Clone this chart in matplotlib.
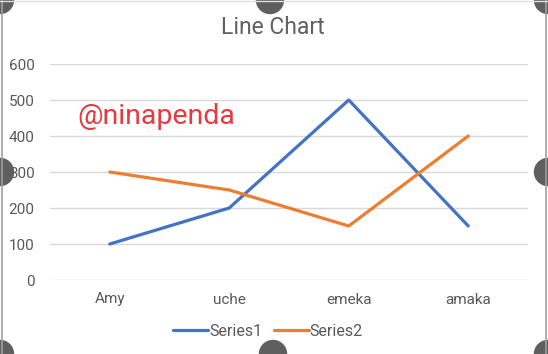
import matplotlib
matplotlib.use("Agg")
import matplotlib.pyplot as plt
from matplotlib.patches import Circle

plt.rcParams['font.family'] = ['Roboto', 'DejaVu Sans']

categories = ["Amy", "uche", "emeka", "amaka"]
series1 = [100, 200, 500, 150]
series2 = [300, 250, 150, 400]
yticks = [0, 100, 200, 300, 400, 500, 600]

W, H = 548, 354
fig = plt.figure(figsize=(W / 100, H / 100), dpi=100)
fig.patch.set_facecolor("white")

ax = fig.add_axes([50 / W, 1 - 280 / H, 478 / W, 216 / H])
x = list(range(len(categories)))
l1, = ax.plot(x, series1, color="#4472C4", lw=2.3, label="Series1", solid_capstyle="round")
l2, = ax.plot(x, series2, color="#ED7D31", lw=2.3, label="Series2", solid_capstyle="round")
ax.set_xlim(-0.5, 3.5)
ax.set_ylim(0, 600)
ax.set_yticks(yticks)
ax.set_xticks(x)
ax.set_xticklabels(categories)
ax.grid(axis="y", color="#d9d9d9", lw=1)
ax.set_axisbelow(True)
for s in ax.spines.values():
    s.set_visible(False)
ax.tick_params(length=0, colors="#595959", labelsize=11)
ax.tick_params(axis="y", pad=11)
ax.tick_params(axis="x", pad=9)

fig.text(273 / W, 1 - 28 / H, "Line Chart", ha="center", va="center",
         fontsize=16.5, color="#606060")
fig.text(77 / W, 1 - 117 / H, "@ninapenda", ha="left", va="center",
         fontsize=20.5, color="#E8393F")

fig.legend(handles=[l1, l2], loc="center", bbox_to_anchor=(268 / W, 1 - 331 / H),
           ncol=2, frameon=False, fontsize=11.5, labelcolor="#595959",
           handlelength=2.2, handletextpad=0.05, columnspacing=0.7)

ov = fig.add_axes([0, 0, 1, 1], zorder=10)
ov.set_xlim(0, W)
ov.set_ylim(H, 0)
ov.axis("off")
ov.patch.set_alpha(0)
ov.plot([1.5, 1.5], [0, H], color="#a0a0a0", lw=1.2)
ov.plot([546, 546], [0, H], color="#a0a0a0", lw=1.2)
ov.plot([0, W], [0.5, 0.5], color="#e0e0e0", lw=1)
for (cx, cy) in [(0, 0), (270, 0), (W, 0), (0, 172), (W, 172), (0, H), (273, H), (W, H)]:
    ov.add_patch(Circle((cx, cy), 13.5, color="#5f5f5f", clip_on=False))

fig.savefig("out.png", dpi=100, facecolor="white")
